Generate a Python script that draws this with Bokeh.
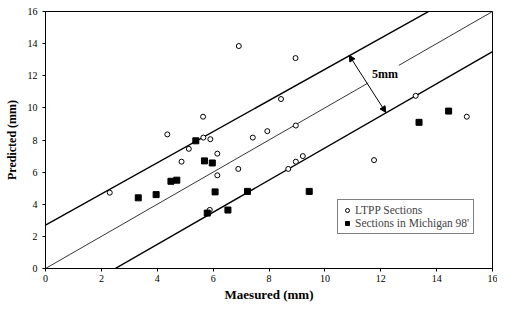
from bokeh.plotting import figure
from bokeh.models import Range1d, Legend, LegendItem, Label, Arrow, NormalHead, FixedTicker
from bokeh.embed import file_html
from bokeh.resources import INLINE

# LTPP sections (open circles)
ltpp_x = [2.30, 4.36, 4.87, 5.13, 5.64, 5.65, 5.90, 6.15, 6.15, 5.88, 6.90, 6.92,
          7.42, 7.94, 8.43, 8.95, 8.96, 8.69, 8.96, 9.21, 11.76, 13.25, 15.08]
ltpp_y = [4.72, 8.35, 6.65, 7.45, 9.45, 8.15, 8.05, 7.15, 5.80, 3.65, 6.20, 13.85,
          8.15, 8.55, 10.55, 13.10, 8.90, 6.20, 6.65, 7.00, 6.75, 10.75, 9.45]

# Sections in Michigan 98' (filled squares)
mich_x = [3.32, 3.96, 4.49, 4.70, 5.38, 5.69, 5.97, 6.07, 5.79, 6.53, 7.23, 9.44, 13.37, 14.43]
mich_y = [4.40, 4.60, 5.43, 5.50, 7.95, 6.70, 6.57, 4.77, 3.45, 3.64, 4.80, 4.80, 9.10, 9.80]

# reference band lines: y = slope * x + offset
band_x = [0.0, 16.0]
upper_slope, upper_offset = 0.97, 2.7
lower_slope, lower_offset = 1.0, -2.5
mid_segments_x = [[0.0, 11.55], [12.65, 16.0]]

# arrow marking the 5mm band width
arrow_start = (10.87, 13.27)
arrow_end = (12.18, 9.72)
band_label = "5mm"
band_label_pos = (12.15, 12.1)

ticks = [0, 2, 4, 6, 8, 10, 12, 14, 16]

p = figure(width=497, height=304, output_backend="svg", toolbar_location=None,
           x_range=Range1d(0, 16), y_range=Range1d(0, 16),
           min_border_left=45, min_border_right=5, min_border_top=11, min_border_bottom=31)
p.background_fill_color = "white"
p.border_fill_color = "white"
p.outline_line_color = "black"
p.outline_line_width = 1
p.xgrid.visible = False
p.ygrid.visible = False

serif = "Liberation Serif"
for ax in (p.xaxis[0], p.yaxis[0]):
    ax.ticker = FixedTicker(ticks=ticks)
    ax.minor_tick_line_color = None
    ax.major_tick_out = 3
    ax.major_tick_in = 0
    ax.axis_line_color = "black"
    ax.major_label_text_font = serif
    ax.major_label_text_font_size = "10px"
    ax.major_label_text_color = "black"
    ax.axis_label_text_font = serif
    ax.axis_label_text_font_style = "bold"
    ax.axis_label_text_color = "black"
p.xaxis.axis_label_text_font_size = "13px"
p.yaxis.axis_label_text_font_size = "12px"
p.xaxis.axis_label = "Maesured (mm)"
p.yaxis.axis_label = "Predicted (mm)"
p.xaxis.major_label_standoff = 3
p.yaxis.major_label_standoff = 5
p.xaxis.axis_label_standoff = 2
p.yaxis.axis_label_standoff = 6

upper_y = [upper_slope * x + upper_offset for x in band_x]
lower_y = [lower_slope * x + lower_offset for x in band_x]
p.line(band_x, upper_y, line_color="black", line_width=1.4)
p.line(band_x, lower_y, line_color="black", line_width=1.4)
p.multi_line(mid_segments_x, [list(s) for s in mid_segments_x], line_color="black", line_width=0.8)

r1 = p.scatter(ltpp_x, ltpp_y, marker="circle", size=5, fill_color="white",
               line_color="black", line_width=1)
r2 = p.scatter(mich_x, mich_y, marker="square", size=6, fill_color="black",
               line_color="black")

p.add_layout(Arrow(start=NormalHead(size=6, fill_color="black", line_color="black"),
                   end=NormalHead(size=6, fill_color="black", line_color="black"),
                   x_start=arrow_start[0], y_start=arrow_start[1],
                   x_end=arrow_end[0], y_end=arrow_end[1],
                   line_color="black", line_width=1))

p.add_layout(Label(x=band_label_pos[0], y=band_label_pos[1], text=band_label,
                   text_font=serif, text_font_style="bold", text_font_size="12px",
                   text_align="center", text_baseline="middle", text_color="black"))

legend = Legend(items=[LegendItem(label="LTPP Sections", renderers=[r1]),
                       LegendItem(label="Sections in Michigan 98'", renderers=[r2])],
                location=(292, 34), orientation="vertical")
legend.label_text_font = serif
legend.label_text_font_size = "11.5px"
legend.label_height = 12
legend.glyph_height = 12
legend.glyph_width = 10
legend.label_standoff = 3
legend.spacing = 1
legend.padding = 4
legend.margin = 0
legend.border_line_color = "black"
legend.border_line_width = 1
legend.background_fill_alpha = 1
p.add_layout(legend)

open("out.html", "w").write(file_html(p, INLINE))
